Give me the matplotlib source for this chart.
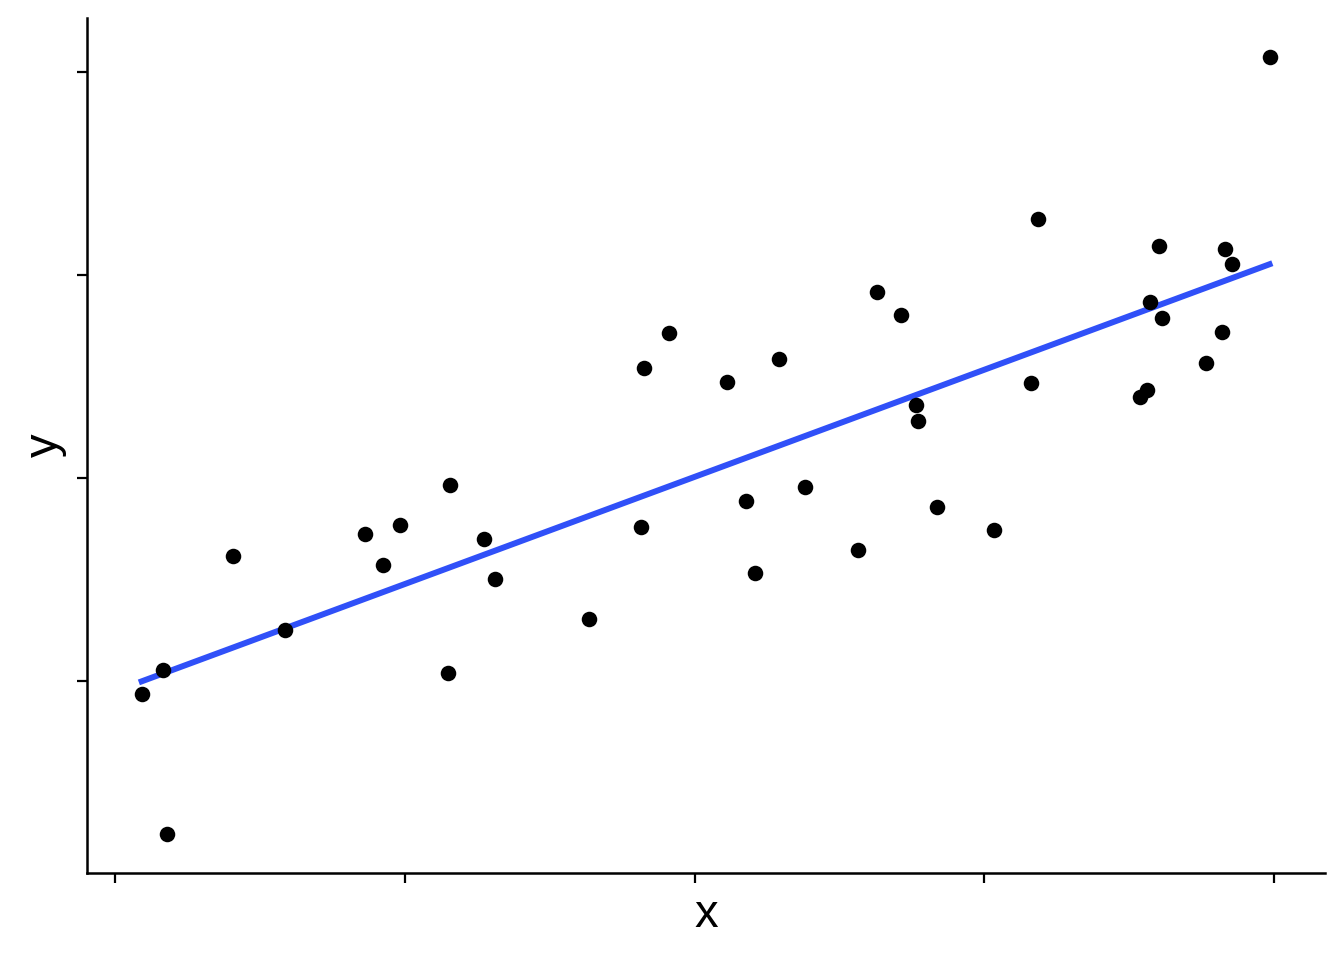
import numpy as np
import matplotlib
matplotlib.use("Agg")
import matplotlib.pyplot as plt

# scatter data (no tick labels shown)
x = [0.023, 0.041, 0.045, 0.102, 0.147, 0.216, 0.231, 0.246, 0.287, 0.289,
     0.318, 0.328, 0.409, 0.454, 0.456, 0.478, 0.528, 0.544, 0.552, 0.573,
     0.595, 0.641, 0.657, 0.678, 0.691, 0.693, 0.709, 0.758, 0.790, 0.796,
     0.884, 0.890, 0.893, 0.901, 0.903, 0.941, 0.955, 0.958, 0.964, 0.996]
y = [-0.064, 0.054, -0.754, 0.616, 0.251, 0.724, 0.571, 0.768, 0.039, 0.966,
     0.700, 0.502, 0.305, 0.759, 1.542, 1.714, 1.473, 0.887, 0.532, 1.586,
     0.956, 0.645, 1.916, 1.803, 1.360, 1.281, 0.857, 0.744, 1.468, 2.276,
     1.399, 1.433, 1.867, 2.143, 1.788, 1.567, 1.719, 2.128, 2.054, 3.074]
x_ticks = [0, 0.25, 0.5, 0.75, 1.0]
y_ticks = [0, 1, 2, 3]

x = np.array(x)
y = np.array(y)
slope, intercept = np.polyfit(x, y, 1)
xl = np.array([x.min(), x.max()])

plt.rcParams["font.family"] = ["Liberation Sans", "DejaVu Sans"]

fig = plt.figure(figsize=(13.44, 9.6), dpi=100)
ax = fig.add_axes([0.0647, 0.0906, 0.9213, 0.8904])

ax.scatter(x, y, s=125, color="black", zorder=3, linewidths=0)
ax.plot(xl, slope * xl + intercept, color="#3050F8", lw=4.3, zorder=2)

ax.set_xlim(-0.0242, 1.044)
ax.set_ylim(-0.946, 3.266)
ax.set_xticks(x_ticks)
ax.set_yticks(y_ticks)
ax.set_xticklabels([])
ax.set_yticklabels([])
ax.tick_params(length=7, width=1.6, direction="out")
for side in ["top", "right"]:
    ax.spines[side].set_visible(False)
for side in ["left", "bottom"]:
    ax.spines[side].set_linewidth(1.8)

ax.set_xlabel("x", fontsize=34, labelpad=4)
ax.set_ylabel("y", fontsize=34, labelpad=4)

fig.savefig("out.png", dpi=100)
